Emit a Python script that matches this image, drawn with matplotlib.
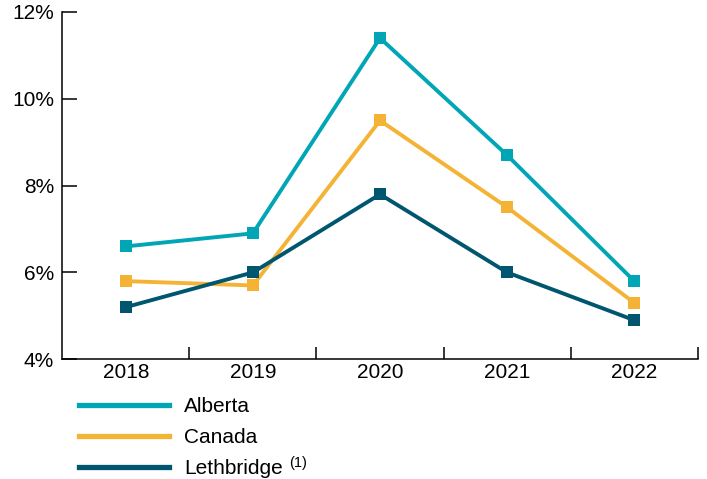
import matplotlib
matplotlib.use("Agg")
import matplotlib.pyplot as plt
from matplotlib.lines import Line2D
from matplotlib.ticker import FuncFormatter

plt.rcParams['font.family'] = ['Liberation Sans', 'DejaVu Sans']

years = ['2018', '2019', '2020', '2021', '2022']
alberta = [6.6, 6.9, 11.4, 8.7, 5.8]
canada = [5.8, 5.7, 9.5, 7.5, 5.3]
lethbridge = [5.2, 6.0, 7.8, 6.0, 4.9]

series_names = ['Alberta', 'Canada', 'Lethbridge']
footnote = '(1)'
colors = ['#00A5B6', '#F5B335', '#00566F']

fig = plt.figure(figsize=(7.07, 4.79), dpi=100)
ax = fig.add_axes([0.088, 0.25, 0.899, 0.725])

x = list(range(len(years)))
# Lethbridge drawn last so it sits on top, like the original
for vals, c in zip([alberta, canada, lethbridge], colors):
    ax.plot(x, vals, color=c, lw=2.8, marker='s', markersize=8.5,
            markeredgewidth=0, solid_joinstyle='miter')

ax.set_xlim(-0.5, len(years) - 0.5)
ax.set_ylim(4, 12)
ax.set_yticks([4, 6, 8, 10, 12])
ax.yaxis.set_major_formatter(FuncFormatter(lambda v, p: f'{v:.0f}%'))

# year labels centred on categories, tick marks between them
ax.set_xticks(x)
ax.set_xticklabels(years)
ax.tick_params(axis='x', which='major', length=0, pad=3, labelsize=15)
ax.set_xticks([i + 0.5 for i in x], minor=True)
ax.tick_params(axis='x', which='minor', direction='in', length=9, width=1.1)
ax.tick_params(axis='y', direction='in', length=11, width=1.1, pad=6,
               labelsize=15)

for s in ['top', 'right']:
    ax.spines[s].set_visible(False)
for s in ['left', 'bottom']:
    ax.spines[s].set_linewidth(1.1)

handles = [Line2D([], [], color=c, lw=3.8) for c in colors]
leg = fig.legend(handles, series_names, loc='upper left',
                 bbox_to_anchor=(0.112, 0.171), frameon=False, fontsize=15,
                 handlelength=4.3, handletextpad=0.75, labelspacing=0.58,
                 borderaxespad=0, borderpad=0)

# superscript footnote marker after the Lethbridge label
fig.canvas.draw()
bb = leg.get_texts()[-1].get_window_extent()
fig.text(bb.x1 + 6, bb.y1 + 3, footnote, fontsize=10.5, ha='left', va='top',
         transform=None)

fig.savefig('out.png', dpi=100)
